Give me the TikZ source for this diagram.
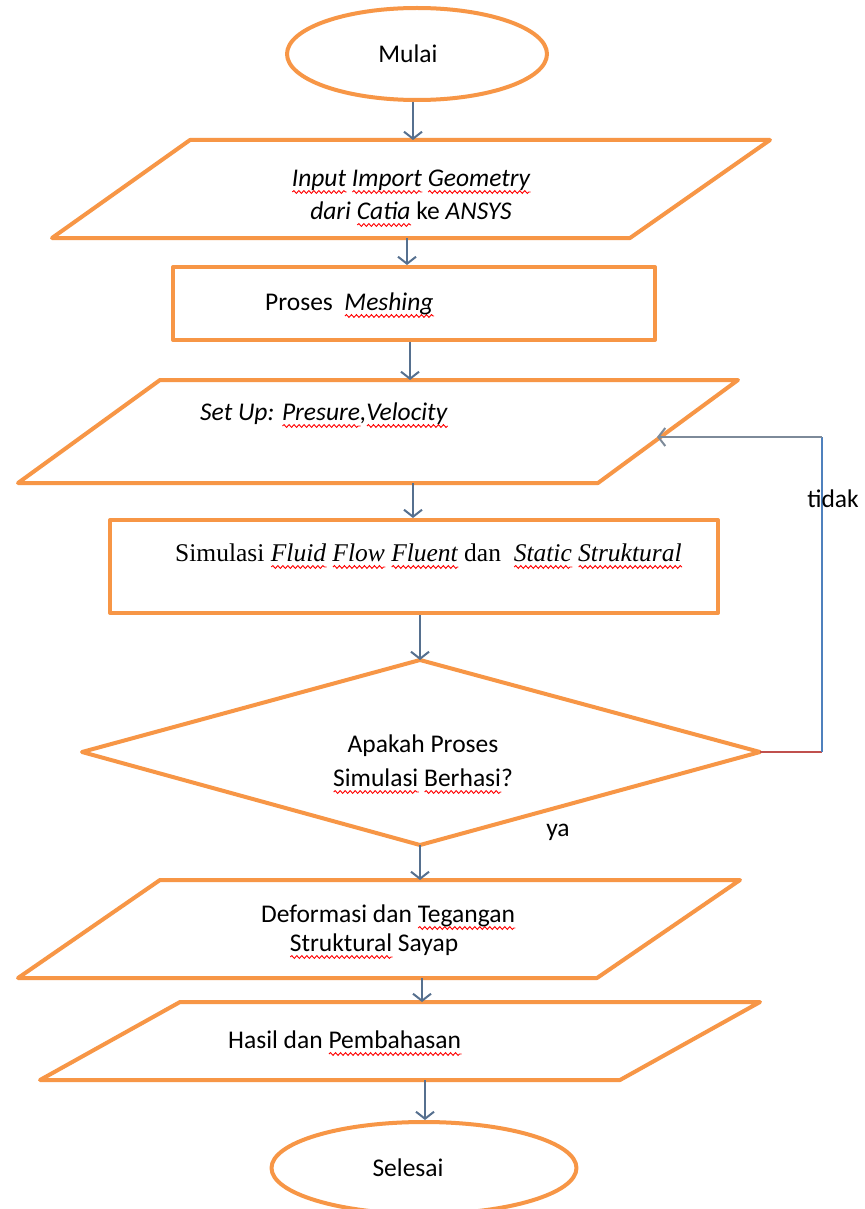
\documentclass[tikz,border=0pt]{standalone}
\usepackage{fontspec}
\setmainfont{Carlito}
\newfontfamily\tnr{Liberation Serif}
\usetikzlibrary{arrows.meta,shapes.geometric,decorations.pathmorphing}
\definecolor{orng}{HTML}{F79646}
\definecolor{arr}{HTML}{56708F}
\definecolor{lblue}{HTML}{4F81BD}
\definecolor{lred}{HTML}{C0504D}
\definecolor{fbgray}{HTML}{7D8A99}
\newsavebox\sqbox
\newcommand\sq[1]{\sbox\sqbox{#1}\rlap{\tikz[baseline=0pt,x=1pt,y=1pt]\draw[red,line width=0.9pt,decorate,decoration={snake,amplitude=1.4pt,segment length=5pt}] (0,-6) -- (\the\wd\sqbox,-6);}\usebox\sqbox}
\tikzset{
  flow/.style={draw=orng, line width=4pt, line join=round, fill=white},
  arw/.style={draw=arr, line width=2pt, -{Straight Barb[length=7pt,width=18pt,line width=2pt]}},
  txt/.style={font=\fontsize{25.5}{30}\selectfont, inner sep=0pt, anchor=base},
  txtl/.style={txt, anchor=base west},
}
\begin{document}
\begin{tikzpicture}[x=1pt,y=-1pt]
\useasboundingbox (0,0) rectangle (864,1209);
\fill[white] (0,0) rectangle (864,1209);

% start
\node[flow, ellipse, minimum width=260pt, minimum height=92pt, inner sep=0pt] (mulai) at (417,54) {};
\node[txt] (tmulai) at (408,63) {Mulai};

% parallelogram 1
\draw[flow] (190,140) -- (770,140) -- (630,238) -- (52,238) -- cycle;
\coordinate (p1t) at (413,140);
\coordinate (p1b) at (407,238);
\node[txt] (t1a) at (411,186) {\textit{\sq{Input} \sq{Import} \sq{Geometry}}};
\node[txt] (t1b) at (411,219) {\textit{dari \sq{Catia}} ke \textit{ANSYS}};

% meshing
\node[flow, rectangle, minimum width=482pt, minimum height=73pt, inner sep=0pt] (mesh) at (414,303.5) {};
\node[txtl] (tmesh) at (265,310) {Proses\ \ \textit{\sq{Meshing}}};

% parallelogram 2
\draw[flow] (160,380) -- (738,380) -- (598,483) -- (18,483) -- cycle;
\coordinate (p2t) at (410,380);
\coordinate (p2b) at (413,483);
\coordinate (p2r) at (657,437);
\node[txtl] (t2) at (200,420) {\textit{Set Up: \sq{Presure},\sq{Velocity}}};

% simulasi
\node[flow, rectangle, minimum width=608pt, minimum height=93pt, inner sep=0pt] (sim) at (414,566.5) {};
\node[txtl] (tsim) at (175,561) {\tnr Simulasi \textit{\sq{Fluid} \sq{Flow} \sq{Fluent}} dan\ \ \textit{\sq{Static} \sq{Struktural}}};

% decision
\draw[flow] (420,660) -- (760,752) -- (420,845) -- (82,752) -- cycle;
\coordinate (dT) at (420,660);
\coordinate (dR) at (760,752);
\coordinate (dB) at (420,845);
\node[txt] (td1) at (423,752) {Apakah Proses};
\node[txt] (td2) at (423,786) {\sq{Simulasi} \sq{Berhasi}?};
\node[txt] (tya) at (558,836) {ya};

% parallelogram 3
\draw[flow] (160,880) -- (740,880) -- (597,978) -- (18,978) -- cycle;
\coordinate (p3t) at (420,880);
\coordinate (p3b) at (422,978);
\node[txt] (t3a) at (388,922) {Deformasi dan \sq{Tegangan}};
\node[txt] (t3b) at (374,951) {\sq{Struktural} Sayap};

% parallelogram 4
\draw[flow] (180,1002) -- (760,1002) -- (620,1080) -- (40,1080) -- cycle;
\coordinate (p4t) at (422,1002);
\coordinate (p4b) at (425,1080);
\node[txtl] (t4) at (228,1048) {Hasil dan \sq{Pembahasan}};

% end
\node[flow, ellipse, minimum width=305pt, minimum height=92pt, inner sep=0pt] (selesai) at (424,1168) {};
\node[txt] (tselesai) at (408,1176) {Selesai};

% arrows
\draw[arw] (p1t |- mulai.south) -- (p1t);
\draw[arw] (p1b) -- (p1b |- mesh.north);
\draw[arw] (p2t |- mesh.south) -- (p2t);
\draw[arw] (p2b) -- (p2b |- sim.north);
\draw[arw] (dT |- sim.south) -- (dT);
\draw[arw] (dB) -- (p3t);
\draw[arw] (p3b) -- (p4t);
\draw[arw] (p4b) -- (p4b |- selesai.north);

% feedback
\coordinate (fbA) at (822,752);
\coordinate (fbB) at (822,437);
\draw[lred, line width=1.3pt] (dR) -- (fbA);
\draw[lblue, line width=1.3pt] (fbA) -- (fbB);
\draw[arw, draw=fbgray] (fbB) -- (p2r);
\node[txt] (ttidak) at (833,507) {tidak};
\end{tikzpicture}
\end{document}
